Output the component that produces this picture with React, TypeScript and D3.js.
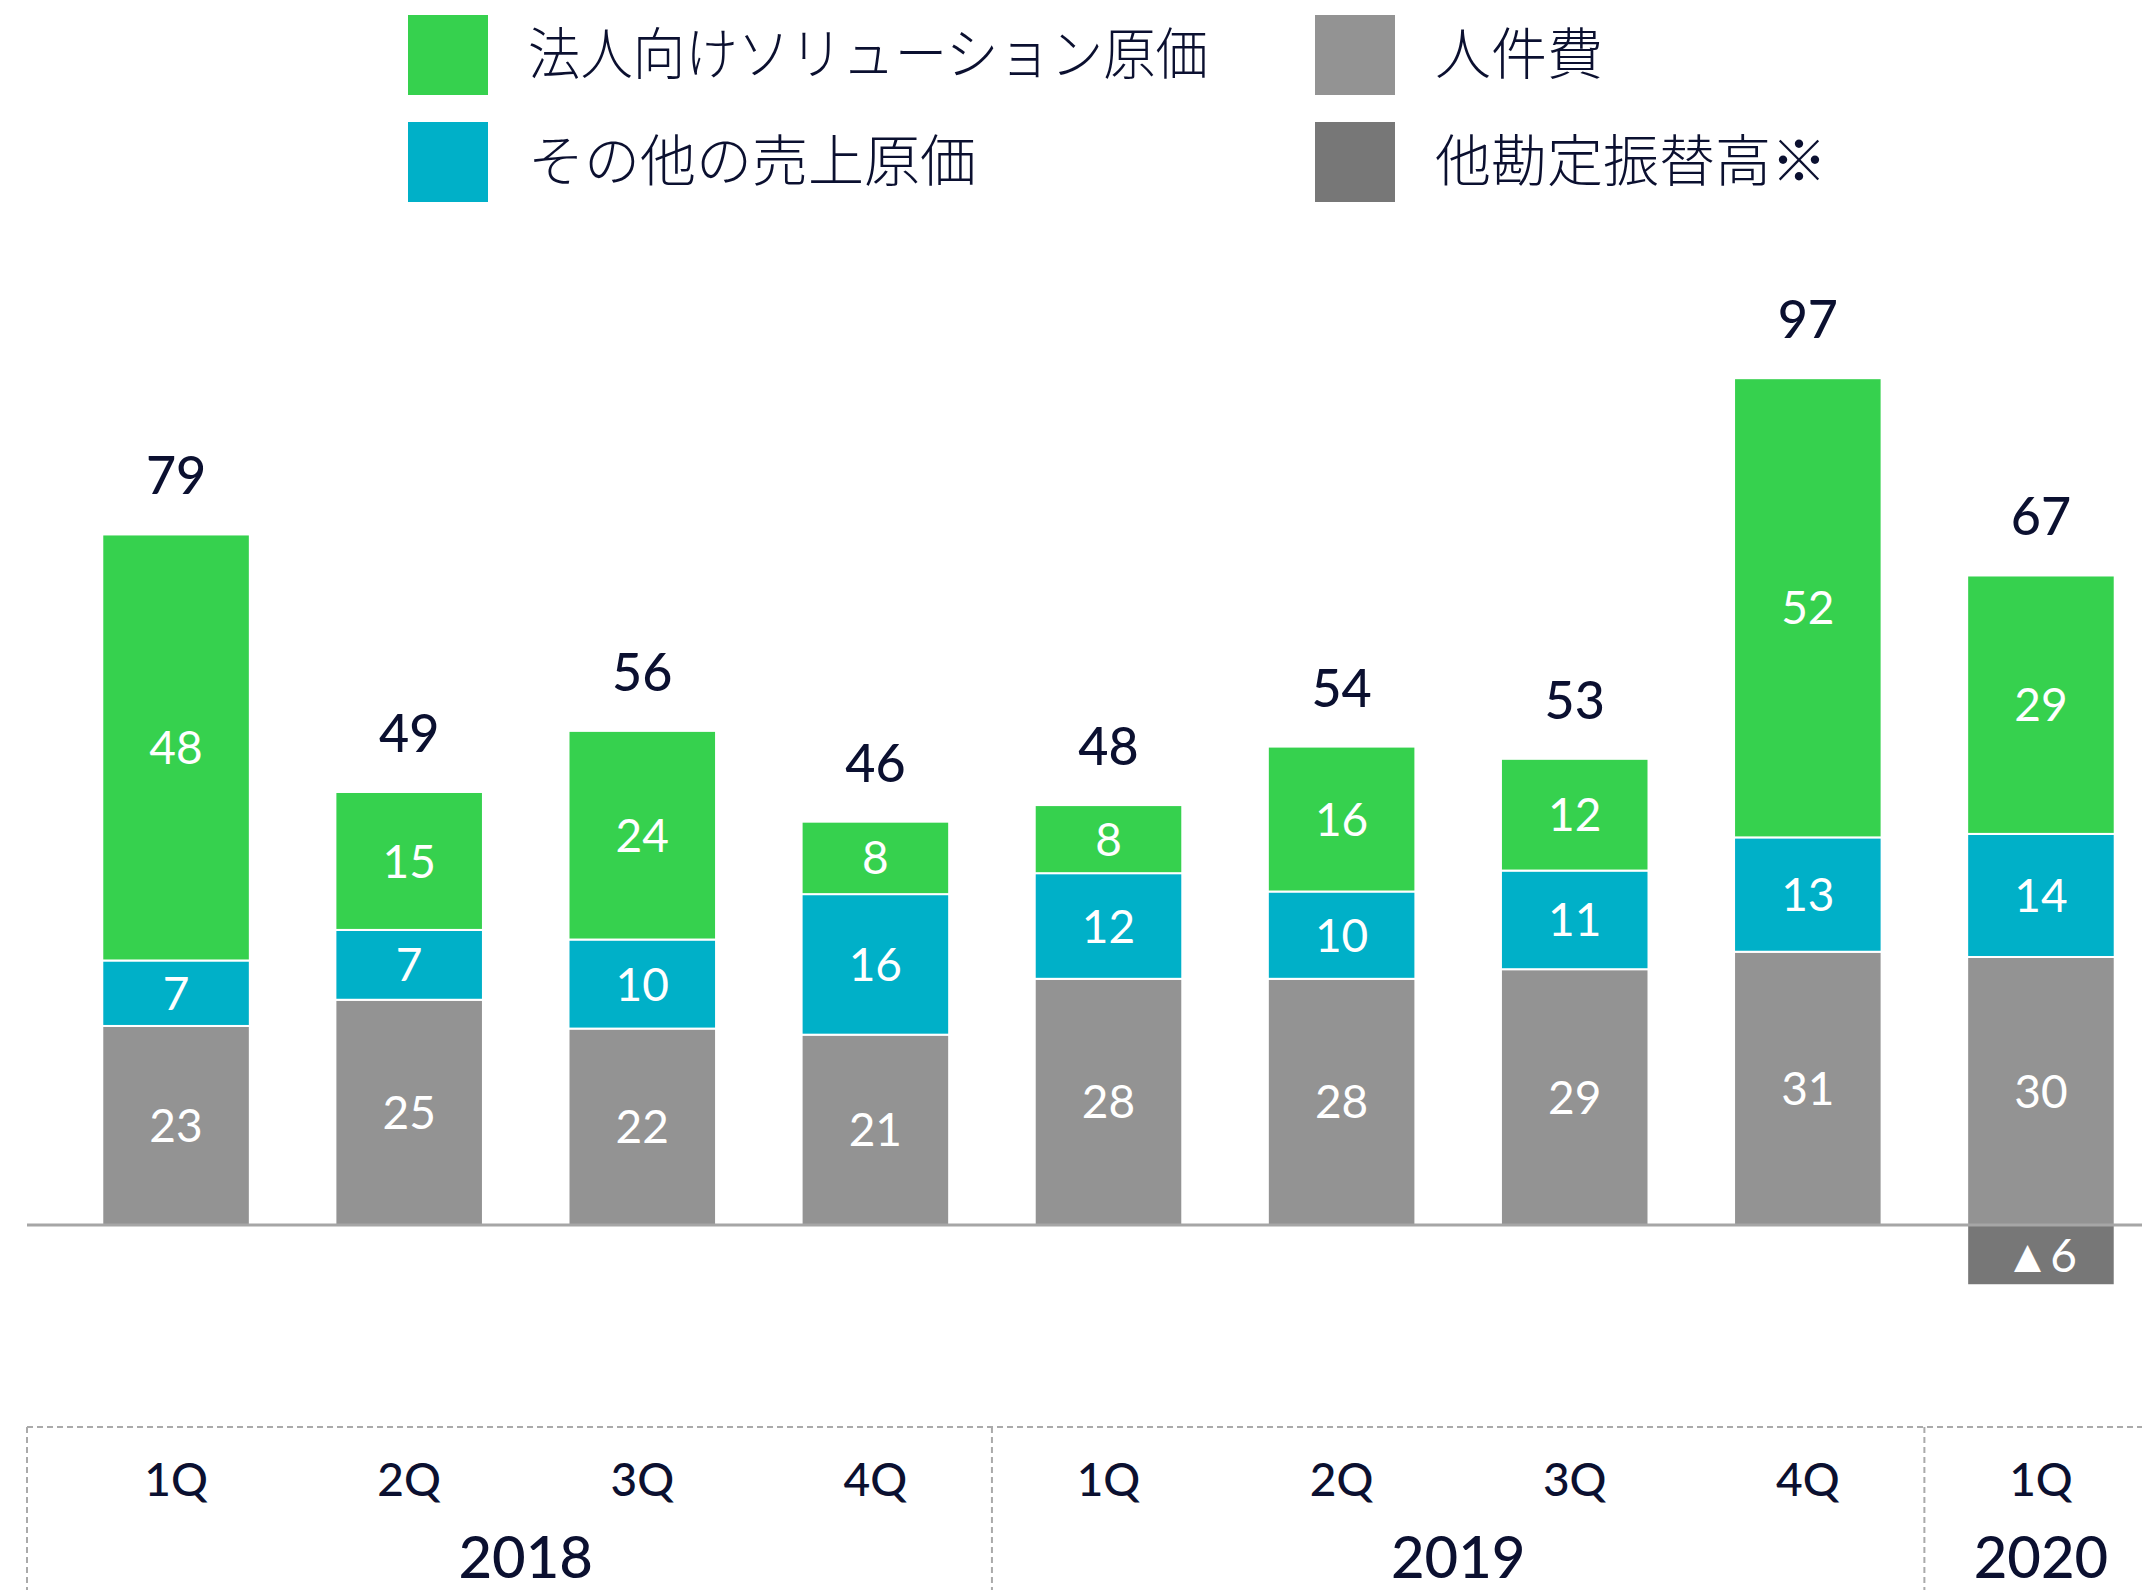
import * as d3 from "d3";
import React from "react";

// quarters on the x axis, with the fiscal year each one belongs to
const quarters = ["1Q", "2Q", "3Q", "4Q", "1Q", "2Q", "3Q", "4Q", "1Q"];
const years = ["2018", "2018", "2018", "2018", "2019", "2019", "2019", "2019", "2020"];

// segment heights (億円)
const personnel = [22.8, 25.8, 22.5, 21.8, 28.2, 28.2, 29.3, 31.3, 30.7]; // 人件費
const otherCost = [7.5, 8.0, 10.2, 16.1, 12.1, 10.0, 11.3, 13.1, 14.1]; // その他の売上原価
const solutionCost = [48.8, 15.8, 23.9, 8.3, 7.8, 16.6, 12.8, 52.6, 29.6]; // 法人向けソリューション原価
const transfer = [0, 0, 0, 0, 0, 0, 0, 0, -6.9]; // 他勘定振替高※

// numbers printed on the chart
const personnelLabels = ["23", "25", "22", "21", "28", "28", "29", "31", "30"];
const otherCostLabels = ["7", "7", "10", "16", "12", "10", "11", "13", "14"];
const solutionCostLabels = ["48", "15", "24", "8", "8", "16", "12", "52", "29"];
const transferLabels = ["", "", "", "", "", "", "", "", "▲6"];
const totals = ["79", "49", "56", "46", "48", "54", "53", "97", "67"];

const seriesKeys = ["personnel", "otherCost", "solutionCost", "transfer"];
const labels: Record<string, string[]> = {
  personnel: personnelLabels,
  otherCost: otherCostLabels,
  solutionCost: solutionCostLabels,
  transfer: transferLabels,
};
const seriesNames: Record<string, string> = {
  solutionCost: "法人向けソリューション原価",
  otherCost: "その他の売上原価",
  personnel: "人件費",
  transfer: "他勘定振替高※",
};
const colors: Record<string, string> = {
  solutionCost: "#36D14E",
  otherCost: "#00B0C8",
  personnel: "#939393",
  transfer: "#777777",
};

const W = 2142;
const H = 1590;
const TEXT = "#0B1030";
const NUM_FONT = "Lato, 'Noto Sans', sans-serif";
const JP_FONT = "'Noto Sans CJK JP', sans-serif";

export default function App() {
  const rows = quarters.map((q, i) => ({
    id: String(i),
    personnel: personnel[i],
    otherCost: otherCost[i],
    solutionCost: solutionCost[i],
    transfer: transfer[i],
  }));

  const stacked = d3
    .stack<any>()
    .keys(seriesKeys)
    .offset(d3.stackOffsetDiverging)(rows);

  const x = d3
    .scaleBand<string>()
    .domain(rows.map((r) => r.id))
    .range([59.5, 2157.5])
    .paddingInner(0.367)
    .paddingOuter(0.1835);

  const y = d3.scaleLinear().domain([-10, 100]).range([1312.3, 352]);

  const cx = (i: number) => (x(String(i)) as number) + x.bandwidth() / 2;

  // year groups
  const groups: { year: string; idx: number[] }[] = [];
  years.forEach((yr, i) => {
    const last = groups[groups.length - 1];
    if (last && last.year === yr) last.idx.push(i);
    else groups.push({ year: yr, idx: [i] });
  });

  const axisTop = 1427;
  const leftEdge = 27;
  const separators = groups.slice(1).map((g) => (cx(g.idx[0] - 1) + cx(g.idx[0])) / 2);

  const legendItems = [
    { key: "solutionCost", x: 408, y: 15, len: 680 },
    { key: "otherCost", x: 408, y: 122, len: 0 },
    { key: "personnel", x: 1315, y: 15, len: 0 },
    { key: "transfer", x: 1315, y: 122, len: 0 },
  ];

  const topOf = (i: number) => y(personnel[i] + otherCost[i] + solutionCost[i]);

  return (
    <svg
      width={W}
      height={H}
      style={{ position: "absolute", left: 0, top: 0, background: "#fff" }}
    >
      {/* legend */}
      {legendItems.map((l) => (
        <g key={l.key}>
          <rect x={l.x} y={l.y} width={80} height={80} fill={colors[l.key]} />
          <text
            x={l.x + 120}
            y={l.y + 34}
            dominantBaseline="central"
            fontFamily={JP_FONT}
            fontWeight={300}
            fontSize={56}
            fill={TEXT}
            {...(l.len ? { textLength: l.len, lengthAdjust: "spacingAndGlyphs" } : {})}
          >
            {seriesNames[l.key]}
          </text>
        </g>
      ))}

      {/* stacked bars */}
      {stacked.map((s) => (
        <g key={s.key} fill={colors[s.key]}>
          {s.map((d, i) => {
            const v = (d.data as any)[s.key];
            if (!v) return null;
            const y0 = y(Math.max(d[0], d[1]));
            const y1 = y(Math.min(d[0], d[1]));
            return (
              <g key={i}>
                <rect
                  x={x(String(i))}
                  y={y0}
                  width={x.bandwidth()}
                  height={y1 - y0}
                  stroke="#fff"
                  strokeWidth={2}
                />
                <text
                  x={cx(i)}
                  y={(y0 + y1) / 2}
                  dy="0.36em"
                  textAnchor="middle"
                  fontFamily={NUM_FONT}
                  fontSize={46}
                  fill="#fff"
                >
                  {labels[s.key][i]}
                </text>
              </g>
            );
          })}
        </g>
      ))}

      {/* zero line */}
      <line
        x1={leftEdge}
        x2={W}
        y1={y(0)}
        y2={y(0)}
        stroke="#A6A6A6"
        strokeWidth={3}
      />

      {/* totals */}
      {totals.map((t, i) => (
        <text
          key={i}
          x={cx(i)}
          y={topOf(i) - 40}
          textAnchor="middle"
          fontFamily={NUM_FONT}
          fontWeight={500}
          fontSize={52}
          fill={TEXT}
        >
          {t}
        </text>
      ))}

      {/* category axis box */}
      <g stroke="#AAAAAA" strokeWidth={2} strokeDasharray="6,4" fill="none">
        <line x1={leftEdge} x2={W} y1={axisTop} y2={axisTop} />
        <line x1={leftEdge} x2={leftEdge} y1={axisTop} y2={H} />
        {separators.map((sx, i) => (
          <line key={i} x1={sx} x2={sx} y1={axisTop} y2={H} />
        ))}
      </g>

      {quarters.map((q, i) => (
        <text
          key={i}
          x={cx(i)}
          y={1496}
          textAnchor="middle"
          fontFamily={NUM_FONT}
          fontWeight={500}
          fontSize={46}
          fill={TEXT}
        >
          {q}
        </text>
      ))}

      {groups.map((g) => (
        <text
          key={g.year}
          x={d3.mean(g.idx, (i) => cx(i))}
          y={1578}
          textAnchor="middle"
          fontFamily={NUM_FONT}
          fontWeight={500}
          fontSize={58}
          fill={TEXT}
        >
          {g.year}
        </text>
      ))}
    </svg>
  );
}
